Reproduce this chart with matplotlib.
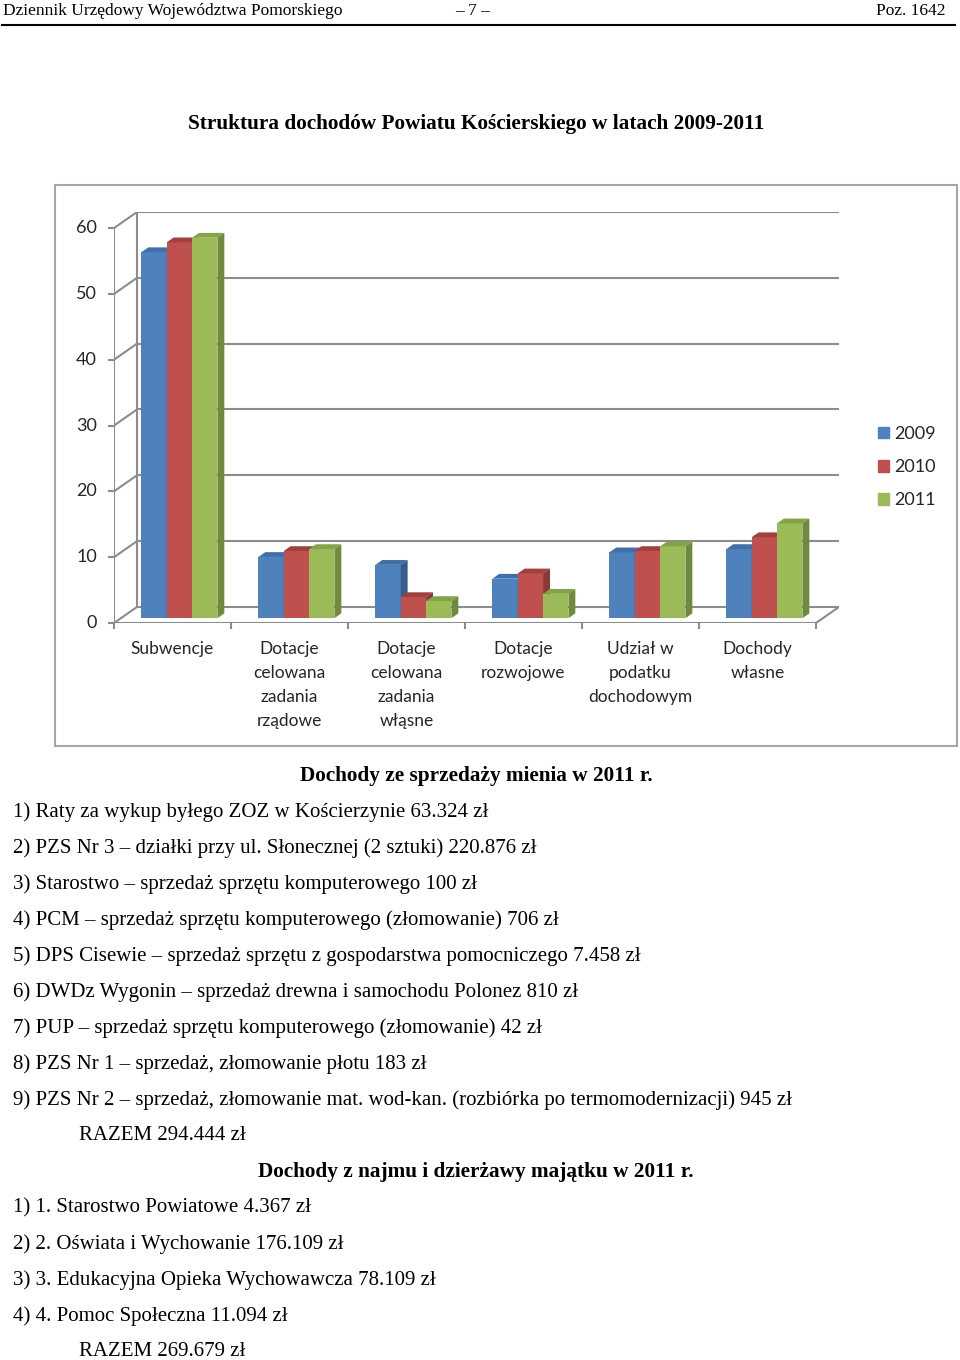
import matplotlib.pyplot as plt
from matplotlib.patches import Polygon, Rectangle, Patch
from matplotlib.lines import Line2D

# chart data (percent share of income)
categories = ["Subwencje", "Dotacje\ncelowana\nzadania\nrządowe", "Dotacje\ncelowana\nzadania\nwłąsne",
              "Dotacje\nrozwojowe", "Udział w\npodatku\ndochodowym", "Dochody\nwłasne"]
years = ["2009", "2010", "2011"]
v2009 = [55.6, 9.3, 8.1, 6.0, 10.0, 10.5]
v2010 = [57.1, 10.2, 3.2, 6.8, 10.2, 12.3]
v2011 = [57.8, 10.5, 2.6, 3.7, 10.9, 14.4]
y_ticks = [0, 10, 20, 30, 40, 50, 60]

header_left = "Dziennik Urzędowy Województwa Pomorskiego"
header_mid = "– 7 –"
header_right = "Poz. 1642"
title = "Struktura dochodów Powiatu Kościerskiego w latach 2009-2011"

heading1 = "Dochody ze sprzedaży mienia w 2011 r."
lines1 = [
    "1) Raty za wykup byłego ZOZ w Kościerzynie 63.324 zł",
    "2) PZS Nr 3 – działki przy ul. Słonecznej (2 sztuki) 220.876 zł",
    "3) Starostwo – sprzedaż sprzętu komputerowego 100 zł",
    "4) PCM – sprzedaż sprzętu komputerowego (złomowanie) 706 zł",
    "5) DPS Cisewie – sprzedaż sprzętu z gospodarstwa pomocniczego 7.458 zł",
    "6) DWDz Wygonin – sprzedaż drewna i samochodu Polonez 810 zł",
    "7) PUP – sprzedaż sprzętu komputerowego (złomowanie) 42 zł",
    "8) PZS Nr 1 – sprzedaż, złomowanie płotu 183 zł",
    "9) PZS Nr 2 – sprzedaż, złomowanie mat. wod-kan. (rozbiórka po termomodernizacji) 945 zł",
]
total1 = "RAZEM 294.444 zł"
heading2 = "Dochody z najmu i dzierżawy majątku w 2011 r."
lines2 = [
    "1) 1. Starostwo Powiatowe 4.367 zł",
    "2) 2. Oświata i Wychowanie 176.109 zł",
    "3) 3. Edukacyjna Opieka Wychowawcza 78.109 zł",
    "4) 4. Pomoc Społeczna 11.094 zł",
]
total2 = "RAZEM 269.679 zł"

W, H = 960, 1360
face = ["#4F81BD", "#C0504D", "#9BBB59"]
top = ["#3F6FAA", "#A33F3C", "#83A444"]
side = ["#385D8A", "#8C3836", "#6F8A3C"]
grid_c = "#8C8C8C"
txt_c = "#262626"
serif = "Liberation Serif"
sans = "Lato"
body_fs = 15
head_fs = 15.3


def fx(x):
    return x / W


def fy(y):
    return 1 - y / H


fig = plt.figure(figsize=(W / 100, H / 100), dpi=100)

# page header
fig.text(fx(3), fy(11), header_left, family=serif, fontsize=12.5, va="center", ha="left")
fig.text(fx(473), fy(11), header_mid, family=serif, fontsize=12.5, va="center", ha="center")
fig.text(fx(946), fy(11), header_right, family=serif, fontsize=12.5, va="center", ha="right")
fig.add_artist(Line2D([fx(2), fx(955)], [fy(25), fy(25)], color="black", lw=1.5))

fig.text(fx(476), fy(124), title, family=serif, fontsize=15.3, weight="bold", va="center", ha="center")

# chart frame
fig.add_artist(Rectangle((fx(55), fy(746)), fx(902), (746 - 185) / H, fill=False,
                         edgecolor="#A6A6A6", lw=1.5))

# pseudo-3d chart axes
DX, DY = 0.1966, 2.44
ax = fig.add_axes([fx(114), fy(623), fx(725), 411 / H])
ax.set_xlim(0, len(categories) + DX)
ax.set_ylim(0, y_ticks[-1] + DY)
ax.axis("off")

n = len(categories)
for v in y_ticks:
    ax.plot([DX, n + DX], [v + DY, v + DY], color=grid_c, lw=1.5, zorder=1)
    ax.plot([0, DX], [v, v + DY], color=grid_c, lw=1.5, zorder=1)
    ax.plot([-0.04, 0], [v, v], color=grid_c, lw=1.5, zorder=1, clip_on=False)
    ax.text(-0.145, v, str(v), family=sans, fontsize=13, color=txt_c, ha="right", va="center")
ax.plot([DX, DX], [DY, y_ticks[-1] + DY], color=grid_c, lw=1.5, zorder=1)
ax.plot([0, 0], [0, y_ticks[-1]], color=grid_c, lw=1.5, zorder=1)
ax.plot([0, n], [0, 0], color=grid_c, lw=1.5, zorder=1)
ax.plot([n, n + DX], [0, DY], color=grid_c, lw=1.5, zorder=1)
for i in range(n + 1):
    ax.plot([i, i], [0, -0.8], color=grid_c, lw=1.5, clip_on=False, zorder=1)

gw = 0.65
bw = gw / 3
f, d = 0.3, 0.3
series = [v2009, v2010, v2011]
for j, vals in enumerate(series):
    xs = [i + 0.5 - gw / 2 + j * bw + f * DX for i in range(n)]
    ax.bar(xs, vals, width=bw, bottom=f * DY, align="edge", color=face[j], zorder=3 + j, lw=0)
    for x0, v in zip(xs, vals):
        t = v + f * DY
        b = f * DY
        ax.add_patch(Polygon([(x0, t), (x0 + bw, t), (x0 + bw + d * DX, t + d * DY), (x0 + d * DX, t + d * DY)],
                             closed=True, color=top[j], lw=0, zorder=3 + j))
        ax.add_patch(Polygon([(x0 + bw, b), (x0 + bw + d * DX, b + d * DY), (x0 + bw + d * DX, t + d * DY), (x0 + bw, t)],
                             closed=True, color=side[j], lw=0, zorder=3 + j))

for i, c in enumerate(categories):
    ax.text(i + 0.5, -2.75, c, family=sans, fontsize=12.5, color=txt_c, ha="center", va="top",
            linespacing=1.62)

handles = [Patch(color=face[j], label=years[j]) for j in range(3)]
fig.legend(handles=handles, loc="upper left", bbox_to_anchor=(fx(878), fy(426)), frameon=False,
           prop={"family": sans, "size": 13}, labelcolor=txt_c, handlelength=0.62, handleheight=0.62,
           handletextpad=0.3, labelspacing=0.95, borderaxespad=0, borderpad=0)

# text under the chart
fig.text(fx(476), fy(776), heading1, family=serif, fontsize=head_fs, weight="bold", va="center", ha="center")
y = 812
for s in lines1:
    fig.text(fx(13), fy(y), s, family=serif, fontsize=body_fs, va="center", ha="left")
    y += 36
fig.text(fx(79), fy(y), total1, family=serif, fontsize=body_fs, va="center", ha="left")
y += 36
fig.text(fx(476), fy(y), heading2, family=serif, fontsize=head_fs, weight="bold", va="center", ha="center")
y += 36
for s in lines2:
    fig.text(fx(13), fy(y), s, family=serif, fontsize=body_fs, va="center", ha="left")
    y += 36
fig.text(fx(79), fy(y), total2, family=serif, fontsize=body_fs, va="center", ha="left")

fig.savefig("out.png", dpi=100, facecolor="white")
